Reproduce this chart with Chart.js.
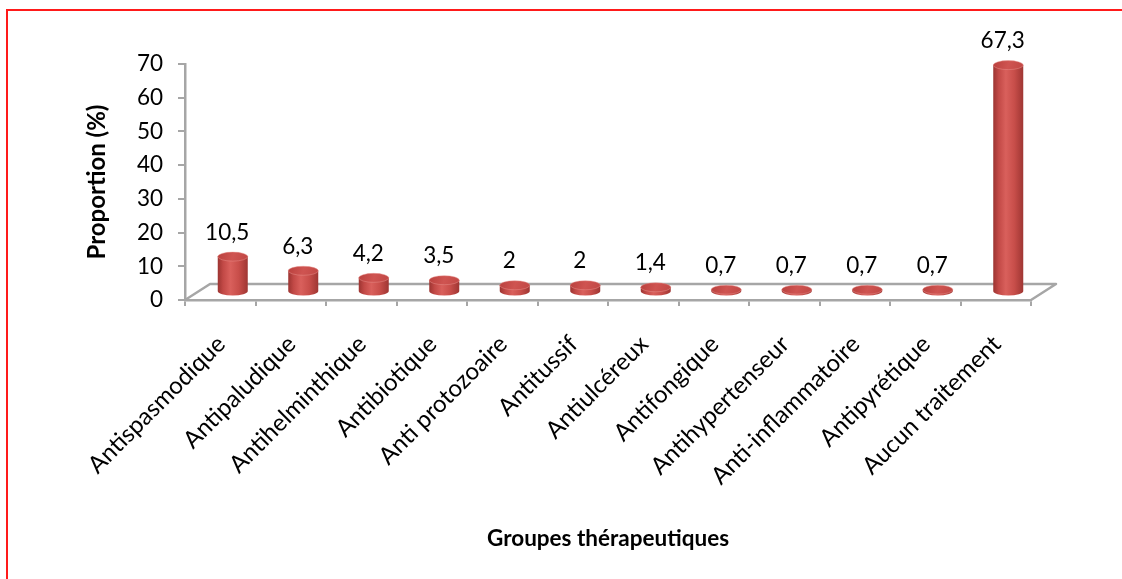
<!DOCTYPE html>
<html>
<head>
<meta charset="utf-8">
<script src="https://cdn.jsdelivr.net/npm/chart.js@4/dist/chart.umd.min.js"></script>
<style>
  html, body { margin: 0; padding: 0; background: #ffffff; overflow: hidden; }
  #wrap { position: relative; width: 1122px; height: 579px; }
  #frame { position: absolute; left: 6px; top: 9px; width: 1130px; height: 590px;
           border-left: 2.5px solid #ff1a1a; border-top: 2.5px solid #ff1a1a; }
  canvas { position: absolute; left: 0; top: 0; }
</style>
</head>
<body>
<div id="wrap">
  <div id="frame"></div>
  <canvas id="chart" width="1122" height="579"></canvas>
</div>
<script>
// Groupes thérapeutiques et proportion (%) des patients
const categories = [
  'Antispasmodique', 'Antipaludique', 'Antihelminthique', 'Antibiotique',
  'Anti protozoaire', 'Antitussif', 'Antiulcéreux', 'Antifongique',
  'Antihypertenseur', 'Anti-inflammatoire', 'Antipyrétique', 'Aucun traitement'
];
const proportions = [10.5, 6.3, 4.2, 3.5, 2, 2, 1.4, 0.7, 0.7, 0.7, 0.7, 67.3];
const yTickValues = [0, 10, 20, 30, 40, 50, 60, 70];

const FONT = 'Lato, "Open Sans", sans-serif';
const AXIS_GREY = '#a6a6a6';
// perspective shift of the floor's back edge, and of the bars standing mid-depth
const FLOOR_DX = 25, FLOOR_DY = -16;
const BAR_DX = 12.5, BAR_DY = -8;
const CYL_RY = 4.5;

function formatFr(v) { return String(v).replace('.', ','); }

// Gray 3D floor drawn under the bars
const floorPlugin = {
  id: 'floor3d',
  beforeDatasetsDraw(chart) {
    const { ctx } = chart;
    const x = chart.scales.x, y = chart.scales.y;
    const y0 = y.getPixelForValue(0);
    ctx.save();
    ctx.strokeStyle = AXIS_GREY;
    ctx.lineWidth = 2.5;
    ctx.lineJoin = 'round';
    ctx.beginPath();
    ctx.moveTo(x.left, y0);
    ctx.lineTo(x.left + FLOOR_DX, y0 + FLOOR_DY);
    ctx.lineTo(x.right + FLOOR_DX, y0 + FLOOR_DY);
    ctx.lineTo(x.right, y0);
    ctx.stroke();
    ctx.restore();
  }
};

function drawCylinder(ctx, cx, topY, baseY, rx, ry) {
  const grad = ctx.createLinearGradient(cx - rx, 0, cx + rx, 0);
  grad.addColorStop(0, '#9c3431');
  grad.addColorStop(0.18, '#c24946');
  grad.addColorStop(0.42, '#d9605c');
  grad.addColorStop(0.7, '#c84e4a');
  grad.addColorStop(1, '#9f3633');
  ctx.beginPath();
  ctx.moveTo(cx - rx, topY);
  ctx.lineTo(cx - rx, baseY);
  ctx.ellipse(cx, baseY, rx, ry, 0, Math.PI, 0, true);
  ctx.lineTo(cx + rx, topY);
  ctx.closePath();
  ctx.fillStyle = grad;
  ctx.fill();

  const topGrad = ctx.createLinearGradient(cx - rx, topY - ry, cx + rx, topY + ry);
  topGrad.addColorStop(0, '#b9403d');
  topGrad.addColorStop(0.5, '#cf5451');
  topGrad.addColorStop(1, '#c04744');
  ctx.beginPath();
  ctx.ellipse(cx, topY, rx, ry, 0, 0, Math.PI * 2);
  ctx.fillStyle = topGrad;
  ctx.fill();
  ctx.strokeStyle = 'rgba(235,150,145,0.55)';
  ctx.lineWidth = 0.8;
  ctx.stroke();
}

// Cylinders and value labels, placed from the bar elements computed by the scales
const cylinderPlugin = {
  id: 'cylinders',
  afterDatasetsDraw(chart) {
    const { ctx } = chart;
    const meta = chart.getDatasetMeta(0);
    const values = chart.data.datasets[0].data;
    ctx.save();
    meta.data.forEach((el) => {
      const rx = el.width / 2;
      drawCylinder(ctx, el.x + BAR_DX, el.y + BAR_DY, el.base + BAR_DY, rx, CYL_RY);
    });
    ctx.fillStyle = '#000000';
    ctx.font = '22.5px ' + FONT;
    ctx.textAlign = 'center';
    ctx.textBaseline = 'alphabetic';
    meta.data.forEach((el, i) => {
      ctx.fillText(formatFr(values[i]), el.x + 7, el.y - 25);
    });
    ctx.restore();
  }
};

function build() {
  new Chart(document.getElementById('chart'), {
    type: 'bar',
    data: {
      labels: categories,
      datasets: [{
        data: proportions,
        backgroundColor: 'rgba(0,0,0,0)',
        borderWidth: 0,
        barThickness: 30
      }]
    },
    options: {
      responsive: false,
      animation: false,
      layout: { padding: { left: 0, top: 64, right: 91, bottom: 0 } },
      plugins: { legend: { display: false }, tooltip: { enabled: false } },
      scales: {
        x: {
          type: 'category',
          offset: true,
          grid: { offset: true, drawOnChartArea: false, drawTicks: true, tickLength: 6, color: AXIS_GREY, lineWidth: 2 },
          border: { display: true, color: AXIS_GREY, width: 2.5 },
          ticks: {
            autoSkip: false, minRotation: 45, maxRotation: 45,
            color: '#000000', font: { family: FONT, size: 24 },
            labelOffset: 1, padding: 24
          },
          title: {
            display: true, text: 'Groupes thérapeutiques', color: '#000000',
            font: { family: FONT, size: 22.5, weight: 'bold' },
            padding: { top: 0, bottom: 27 }
          },
          afterFit(scale) { scale.height = 279; }
        },
        y: {
          min: 0, max: 70,
          afterBuildTicks(scale) { scale.ticks = yTickValues.map(v => ({ value: v })); },
          grid: { drawOnChartArea: false, drawTicks: true, tickLength: 7, color: AXIS_GREY, lineWidth: 2 },
          border: { display: true, color: AXIS_GREY, width: 2.5 },
          ticks: { color: '#000000', font: { family: FONT, size: 22.5 }, padding: 15 },
          title: {
            display: true, text: 'Proportion (%)', color: '#000000',
            font: { family: FONT, size: 24, weight: 'bold' },
            padding: { top: 83, bottom: 0 }
          },
          afterFit(scale) { scale.width = 185; }
        }
      }
    },
    plugins: [floorPlugin, cylinderPlugin]
  });
}

if (document.fonts && document.fonts.load) {
  Promise.all([
    document.fonts.load('20px Lato'),
    document.fonts.load('bold 20px Lato')
  ]).then(build, build);
} else {
  build();
}
</script>
</body>
</html>
